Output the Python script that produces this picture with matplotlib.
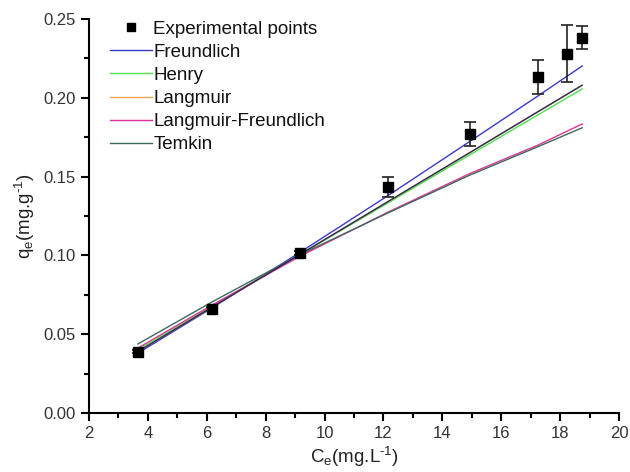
import matplotlib
matplotlib.use("Agg")
import matplotlib.pyplot as plt
from matplotlib.ticker import MultipleLocator, AutoMinorLocator
from matplotlib.lines import Line2D

plt.rcParams['font.family'] = ['Liberation Sans', 'DejaVu Sans']
plt.rcParams['mathtext.fontset'] = 'custom'
plt.rcParams['mathtext.rm'] = 'Liberation Sans'
plt.rcParams['mathtext.it'] = 'Liberation Sans'

# Equilibrium concentration (mg/L) and adsorbed amount (mg/g)
ce = [3.66, 6.18, 9.17, 12.16, 14.94, 17.25, 18.24, 18.75]
qe = [0.0388, 0.0660, 0.1015, 0.1434, 0.1770, 0.2132, 0.2280, 0.2380]
qe_err = [0.0010, 0.0010, 0.0015, 0.0065, 0.0075, 0.0110, 0.0180, 0.0073]

# Model curves evaluated along Ce
ce_fit = [3.66, 6.18, 9.17, 12.16, 14.94, 17.25, 18.75]
freundlich = [0.0380, 0.0667, 0.1020, 0.1380, 0.1724, 0.2012, 0.2202]
henry = [0.0401, 0.0678, 0.1006, 0.1334, 0.1639, 0.1892, 0.2056]
langmuir = [0.0390, 0.0672, 0.1007, 0.1342, 0.1653, 0.1912, 0.2080]
langmuir_freundlich = [0.0412, 0.0685, 0.0995, 0.1275, 0.1520, 0.1700, 0.1834]
temkin = [0.0438, 0.0705, 0.1005, 0.1270, 0.1510, 0.1690, 0.1810]

model_names = ['Freundlich', 'Henry', 'Langmuir', 'Langmuir-Freundlich', 'Temkin']
model_colors = ['#3a3ac8', '#4ee24e', '#f0a850', '#e0349c', '#3c6a5a']

fig = plt.figure(figsize=(6.30, 4.72), dpi=100)
ax = fig.add_axes([0.1413, 0.125, 0.8412, 0.8347])

ax.errorbar(ce, qe, yerr=qe_err, fmt='s', color='black', ms=7.5,
            ecolor='#222222', elinewidth=1.2, capsize=4, capthick=1.2,
            zorder=5)
for vals, name, col in zip([freundlich, henry, langmuir,
                            langmuir_freundlich, temkin],
                           model_names, model_colors):
    ax.plot(ce_fit, vals, color=col, lw=1.0)
# dark overlay of the Langmuir fit
ax.plot(ce_fit, langmuir, color='#2a2a55', lw=1.0)

ax.set_xlim(2, 20)
ax.set_ylim(0, 0.25)
ax.xaxis.set_major_locator(MultipleLocator(2))
ax.xaxis.set_minor_locator(AutoMinorLocator(2))
ax.yaxis.set_major_locator(MultipleLocator(0.05))
ax.yaxis.set_minor_locator(AutoMinorLocator(2))
ax.yaxis.set_major_formatter(plt.FuncFormatter(lambda v, p: f"{v:.2f}"))

for side in ('top', 'right'):
    ax.spines[side].set_visible(False)
for side in ('left', 'bottom'):
    ax.spines[side].set_linewidth(1.5)
ax.tick_params(which='major', direction='out', length=6, width=1.5,
               labelsize=12, labelcolor='#333333')
ax.tick_params(which='minor', direction='out', length=3.5, width=1.5)

ax.set_xlabel(r'C$_\mathregular{e}$(mg.L$^{\text{-1}}$)', fontsize=13.5,
              color='#222222', labelpad=3)
ax.set_ylabel(r'q$_\mathregular{e}$(mg.g$^{\text{-1}}$)', fontsize=13.5,
              color='#222222', labelpad=5)

handles = [Line2D([], [], ls='none', marker='s', ms=6, color='black')]
handles += [Line2D([], [], color=c, lw=1.0) for c in model_colors]
labels = ['Experimental points'] + model_names
leg = ax.legend(handles, labels, loc='upper left', bbox_to_anchor=(0.026, 1.015),
                frameon=False, fontsize=13.5, handlelength=2.2,
                handletextpad=0.1, labelspacing=0.32, borderaxespad=0)
for t in leg.get_texts():
    t.set_color('#111111')

fig.savefig('out.png', dpi=100)
